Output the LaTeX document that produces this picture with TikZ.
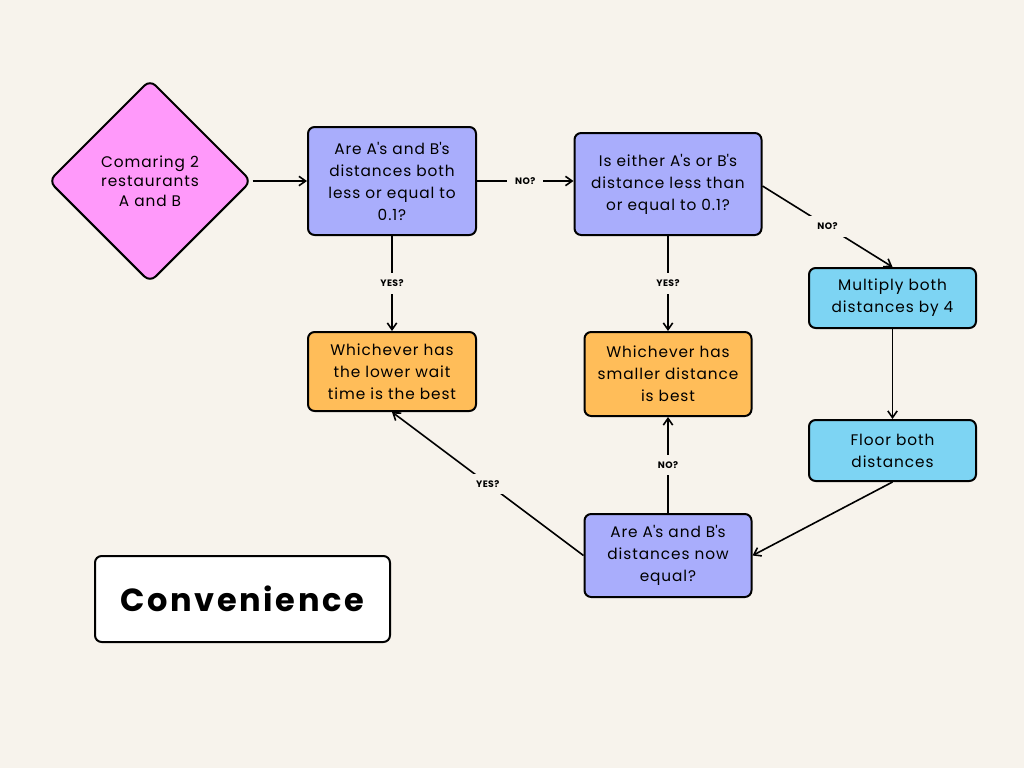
\documentclass[tikz,border=0pt]{standalone}
\usepackage{fontspec}
\setmainfont{Poppins}[LetterSpace=6]
\newfontfamily\titlefont{Poppins}[LetterSpace=8]
\newfontfamily\lblfont{Poppins}[LetterSpace=4]
\usetikzlibrary{arrows.meta,shapes.geometric}
\definecolor{bg}{HTML}{F7F3EC}
\definecolor{pinkf}{HTML}{FF99FA}
\definecolor{violetf}{HTML}{A9ADFC}
\definecolor{bluef}{HTML}{7DD4F3}
\definecolor{orangef}{HTML}{FFBD59}
\newcommand{\ap}{\textquotesingle}
\tikzset{
  box/.style={draw=black, line width=1.5pt, rounded corners=5pt, align=center, font=\fontsize{11.5}{16.5}\selectfont, inner sep=0pt},
  conn/.style={line width=1.2pt, -{Straight Barb[length=5pt,width=7pt]}},
  lbl/.style={fill=bg, font=\lblfont\bfseries\fontsize{7}{8}\selectfont, inner xsep=6pt, inner ysep=5pt}
}
\begin{document}
\begin{tikzpicture}[x=0.75pt,y=-0.75pt]
\fill[bg] (0,0) rectangle (1024,768);
\useasboundingbox (0,0) rectangle (1024,768);
% diamond
\node[draw=black, line width=1.5pt, fill=pinkf, rounded corners=6pt, diamond, minimum width=203*0.75pt, minimum height=203*0.75pt, inner sep=0pt, align=center, font=\fontsize{11.5}{14.5}\selectfont] (start) at (150,181) {Comaring 2\\restaurants\\A and B};
\node[box, fill=violetf, minimum width=168*0.75pt, minimum height=108*0.75pt] (q1) at (392,181) {Are A\ap s and B\ap s\\distances both\\less or equal to\\0.1?};
\node[box, fill=violetf, minimum width=187*0.75pt, minimum height=102*0.75pt] (q2) at (668,184) {Is either A\ap s or B\ap s\\distance less than\\or equal to 0.1?};
\node[box, fill=bluef, minimum width=167*0.75pt, minimum height=60*0.75pt] (mul) at (892.5,298) {Multiply both\\distances by 4};
\node[box, fill=bluef, minimum width=167*0.75pt, minimum height=61*0.75pt] (flo) at (892.5,450.5) {Floor both\\distances};
\node[box, fill=orangef, minimum width=168*0.75pt, minimum height=79*0.75pt] (r1) at (392,371.5) {Whichever has\\the lower wait\\time is the best};
\node[box, fill=orangef, minimum width=167*0.75pt, minimum height=84*0.75pt] (r2) at (668,374) {Whichever has\\smaller distance\\is best};
\node[box, fill=violetf, minimum width=167*0.75pt, minimum height=83*0.75pt] (eq) at (668,555.5) {Are A\ap s and B\ap s\\distances now\\equal?};
\node[box, fill=white, minimum width=295*0.75pt, minimum height=86*0.75pt, font=\titlefont\bfseries\fontsize{24}{28}\selectfont] (title) at (242.5,599) {Convenience};
% connectors
\draw[conn] (start.east) -- (q1.west);
\draw[conn] (q1.east) -- node[lbl]{NO?} (q1.east -| q2.west);
\draw[conn] ([yshift=-1.5pt]q2.east) -- node[lbl, pos=0.5]{NO?} (mul.north);
\draw[conn] (q1.south) -- node[lbl]{YES?} (r1.north);
\draw[conn] (q2.south) -- node[lbl]{YES?} (r2.north);
\draw[conn] (mul.south) -- (flo.north);
\draw[conn] (flo.south) -- (eq.east);
\draw[conn] (eq.north) -- node[lbl]{NO?} (r2.south);
\draw[conn] (eq.west) -- node[lbl]{YES?} (r1.south);
\end{tikzpicture}
\end{document}
